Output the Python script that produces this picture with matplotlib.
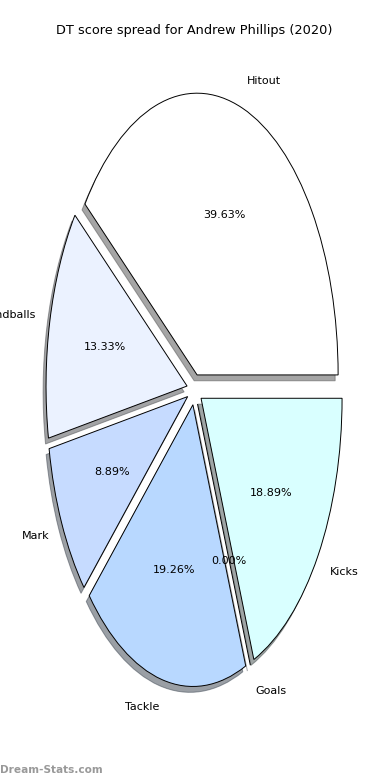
import matplotlib
matplotlib.use("Agg")
import matplotlib.pyplot as plt

# DT score spread data
categories = ['Hitout', 'Handballs', 'Mark', 'Tackle', 'Goals', 'Kicks']
percentages = [39.63, 13.33, 8.89, 19.26, 0.00, 18.89]
colours = ['#ffffff', '#ebf2ff', '#c6dbff', '#b8d8ff', '#dde8ff', '#d9ffff']
title = 'DT score spread for Andrew Phillips (2020)'

fig = plt.figure(figsize=(3.9, 7.8), dpi=100)
ax = fig.add_axes([0.047, 0.049, 0.904, 0.903])

explode = [0.055] * len(categories)
ax.pie(percentages, labels=categories, colors=colours, explode=explode,
       autopct='%1.2f%%', shadow={'ox': -0.015, 'oy': -0.015}, startangle=0,
       wedgeprops={'edgecolor': 'black', 'linewidth': 0.7},
       textprops={'fontsize': 8})
ax.set_aspect('auto')
ax.set_xlim(-1.25, 1.25)
ax.set_ylim(-1.25, 1.25)
ax.set_title(title, fontsize=9.3, pad=2.3)

fig.text(0.0, 0.006, 'Dream-Stats.com', color='#999999', fontsize=7.6,
         fontweight='bold', ha='left', va='bottom')

fig.savefig('out.png', dpi=100)
